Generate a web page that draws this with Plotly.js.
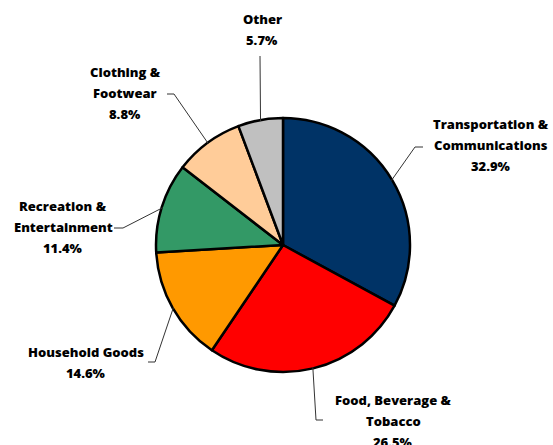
<!DOCTYPE html>
<html><head><meta charset="utf-8">
<script src="https://cdn.plot.ly/plotly-3.0.1.min.js"></script>
<style>html,body{margin:0;padding:0;background:#fff}</style>
</head><body><div id="chart" style="width:553px;height:445px"></div>
<script>
// ---- data ----
const categories = ["Transportation & Communications","Food, Beverage & Tobacco","Household Goods","Recreation & Entertainment","Clothing & Footwear","Other"];
const labelLines = [["Transportation &","Communications"],["Food, Beverage &","Tobacco"],["Household Goods"],["Recreation &","Entertainment"],["Clothing &","Footwear"],["Other"]];
const shares = [32.9, 26.5, 14.6, 11.4, 8.8, 5.7];
const colors = ["#003366","#FF0000","#FF9900","#339966","#FFCC99","#C0C0C0"];

// ---- layout (pixel positions of labels and leader elbows) ----
const W = 553, H = 445;
const pie = {left:156, right:410, top:118, bottom:372};
const labelPos = [
  {x:491, y:124}, {x:393, y:400}, {x:86, y:352},
  {x:63, y:206}, {x:125, y:72}, {x:262, y:19}
];
const elbows = [
  [[415,147],[423,147]],
  [[316,420],[323,420]],
  [[155,362],[148,362]],
  [[123,228],[114,228]],
  [[174,94],[167,94]],
  [[260,56],[260,56]]
];
const lineGap = 21;

const px = x => x / W, py = y => 1 - y / H;
const cx = (pie.left + pie.right) / 2, cy = (pie.top + pie.bottom) / 2;
const R = (pie.right - pie.left) / 2;
const total = shares.reduce((a,b)=>a+b,0);

const annotations = [], shapes = [];
const font = {family:"Open Sans, Arial, sans-serif", size:13, color:"#000", weight:800};
let cum = 0;
shares.forEach((v,i)=>{
  const ang = 2*Math.PI*(cum + v/2)/total;
  cum += v;
  const sx = cx + (R-1)*Math.sin(ang), sy = cy - (R-1)*Math.cos(ang);
  const pts = [[sx,sy], elbows[i][0], elbows[i][1]];
  for (let k=0;k<2;k++){
    const a = pts[k], b = pts[k+1];
    if (a[0]===b[0] && a[1]===b[1]) continue;
    shapes.push({type:"line", xref:"paper", yref:"paper",
      x0:px(a[0]), y0:py(a[1]), x1:px(b[0]), y1:py(b[1]),
      line:{color:"#333", width:1}});
  }
  const lines = labelLines[i].concat([v.toFixed(1) + "%"]);
  lines.forEach((t,j)=>{
    annotations.push({xref:"paper", yref:"paper", x:px(labelPos[i].x), y:py(labelPos[i].y + j*lineGap),
      xanchor:"center", yanchor:"middle", text:t, showarrow:false, font:font});
  });
});

const trace = {
  type:"pie", labels:categories, values:shares, sort:false, direction:"clockwise", rotation:0,
  marker:{colors:colors, line:{color:"#000", width:2.5}},
  textinfo:"none", hoverinfo:"label+percent", showlegend:false,
  domain:{x:[px(pie.left), px(pie.right)], y:[py(pie.bottom), py(pie.top)]}
};
Plotly.newPlot("chart", [trace], {
  width:W, height:H, margin:{l:0,r:0,t:0,b:0},
  paper_bgcolor:"#fff", plot_bgcolor:"#fff",
  showlegend:false, annotations:annotations, shapes:shapes
}, {staticPlot:true});
</script></body></html>
